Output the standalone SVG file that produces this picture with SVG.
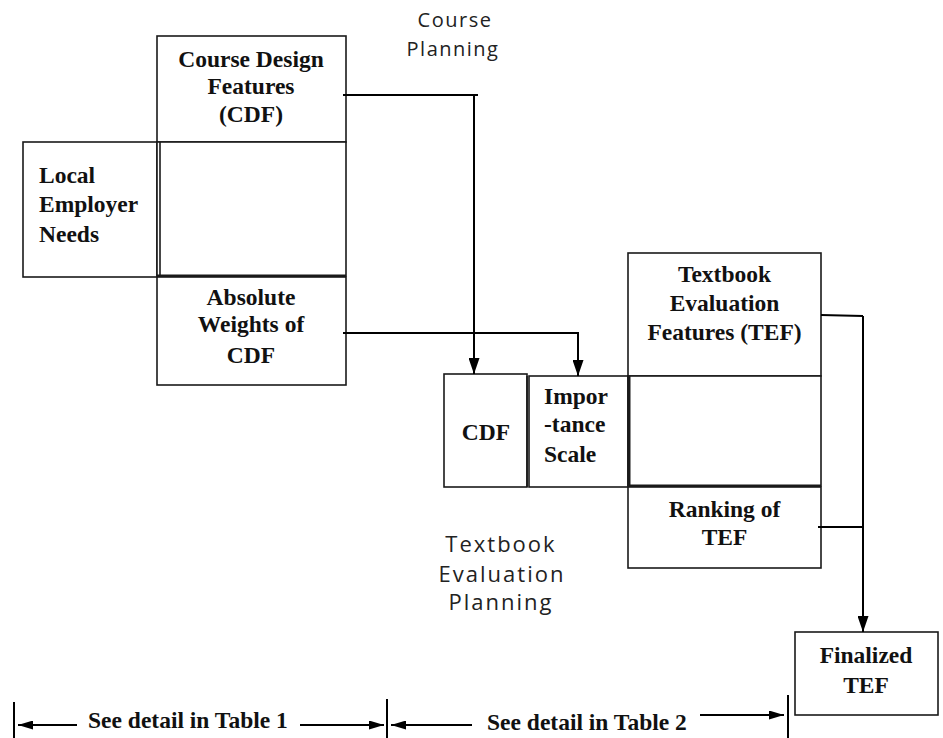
<svg xmlns="http://www.w3.org/2000/svg" width="943" height="738" viewBox="0 0 943 738">
<style>
.box{fill:#fff;stroke:#1a1a1a;stroke-width:1.6}
.ln{fill:none;stroke:#1a1a1a;stroke-width:1.6}
.thick{fill:none;stroke:#1a1a1a;stroke-width:3}
.lbl{font-family:"Liberation Serif","Times New Roman",serif;font-weight:bold;font-size:23.5px;fill:#111}
.c{text-anchor:middle}
.sans{font-family:"Open Sans","DejaVu Sans",sans-serif;fill:#222;text-anchor:middle}
.con{fill:none;stroke:#000;stroke-width:2}
</style>
<defs>
<marker id="ah" viewBox="0 0 16 11" refX="16" refY="5.5" markerWidth="16" markerHeight="11" markerUnits="userSpaceOnUse" orient="auto">
<path d="M0,0 L16,5.5 L0,11 Z" fill="#000"/>
</marker>
<marker id="ahs" viewBox="0 0 15 9" refX="15" refY="4.5" markerWidth="15" markerHeight="9" markerUnits="userSpaceOnUse" orient="auto">
<path d="M0,0 L15,4.5 L0,9 Z" fill="#000"/>
</marker>
</defs>

<text class="sans" font-size="20" letter-spacing="1.5"><tspan x="455" y="27">Course</tspan><tspan x="453" y="56">Planning</tspan></text>
<text class="sans" font-size="22" letter-spacing="2"><tspan x="501" y="552">Textbook</tspan><tspan x="502" y="582">Evaluation</tspan><tspan x="501" y="610">Planning</tspan></text>

<g id="cdf">
<rect class="box" x="157" y="36" width="189" height="106"/>
<text class="lbl c"><tspan x="251" y="67">Course Design</tspan><tspan x="251" y="94">Features</tspan><tspan x="251" y="122">(CDF)</tspan></text>
</g>
<g id="local">
<rect class="box" x="23" y="142" width="134" height="135"/>
<text class="lbl"><tspan x="39" y="183">Local</tspan><tspan x="39" y="212">Employer</tspan><tspan x="39" y="242">Needs</tspan></text>
</g>
<g id="matrix1">
<rect class="box" x="157" y="142" width="189" height="134"/>
<line class="ln" x1="160" y1="142" x2="160" y2="276"/>
<line class="thick" x1="157" y1="276" x2="346" y2="276"/>
</g>
<g id="absw">
<rect class="box" x="157" y="277" width="189" height="108"/>
<text class="lbl c"><tspan x="251" y="305">Absolute</tspan><tspan x="251" y="332">Weights of</tspan><tspan x="251" y="363">CDF</tspan></text>
</g>

<g id="cdf2">
<rect class="box" x="444" y="374" width="83" height="113"/>
<text class="lbl c" x="486" y="440">CDF</text>
</g>
<g id="imp">
<rect class="box" x="529" y="376" width="99" height="111"/>
<line class="ln" x1="527" y1="376" x2="527" y2="487"/>
<text class="lbl"><tspan x="544" y="404">Impor</tspan><tspan x="544" y="432">-tance</tspan><tspan x="544" y="462">Scale</tspan></text>
</g>
<g id="tef">
<rect class="box" x="628" y="253" width="193" height="123"/>
<text class="lbl c"><tspan x="724.5" y="282">Textbook</tspan><tspan x="724.5" y="311">Evaluation</tspan><tspan x="724.5" y="340">Features (TEF)</tspan></text>
</g>
<g id="matrix2">
<rect class="box" x="628" y="376" width="193" height="110"/>
<line class="thick" x1="629" y1="376" x2="629" y2="486"/>
<line class="thick" x1="628" y1="486" x2="821" y2="486"/>
</g>
<g id="rank">
<rect class="box" x="628" y="487" width="193" height="81"/>
<text class="lbl c"><tspan x="724.5" y="517">Ranking of</tspan><tspan x="724.5" y="545">TEF</tspan></text>
</g>
<g id="final">
<rect class="box" x="795" y="632" width="143" height="83"/>
<text class="lbl c"><tspan x="866" y="663">Finalized</tspan><tspan x="866" y="693">TEF</tspan></text>
</g>

<g id="connectors">
<path class="con" d="M343,95 H478"/>
<path class="con" d="M474,95 V374" marker-end="url(#ah)"/>
<path class="con" d="M343,333 H578 V376" marker-end="url(#ah)"/>
<path class="con" d="M821,315 L863,316"/>
<path class="con" d="M818,527 H863"/>
<path class="con" d="M863,316 V632" marker-end="url(#ah)"/>
</g>

<g id="scale">
<line class="con" x1="14" y1="702" x2="14" y2="738"/>
<line class="con" x1="387" y1="699" x2="387" y2="738"/>
<line class="con" x1="788" y1="695" x2="788" y2="738"/>
<path class="con" d="M77,725 H18" marker-end="url(#ahs)"/>
<path class="con" d="M300,725 H384" marker-end="url(#ahs)"/>
<path class="con" d="M472,725 H391" marker-end="url(#ahs)"/>
<path class="con" d="M700,715 H784" marker-end="url(#ahs)"/>
<text class="lbl" x="88" y="728">See detail in Table 1</text>
<text class="lbl" x="487" y="730">See detail in Table 2</text>
</g>
</svg>
